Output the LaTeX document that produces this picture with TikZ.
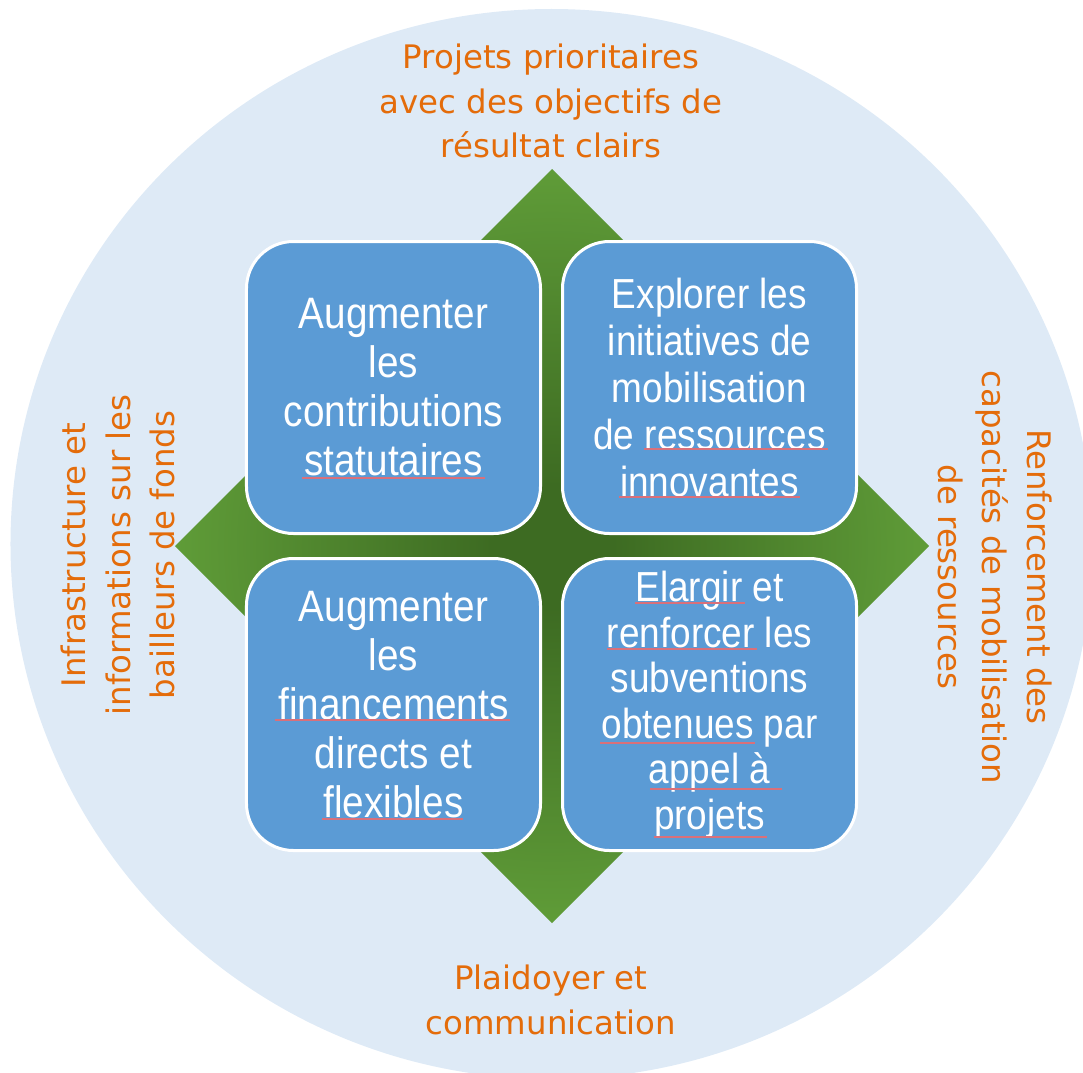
\documentclass[tikz,border=0pt]{standalone}
\usepackage{fontspec}
\newfontfamily\tilefont[FakeStretch=0.88]{Liberation Sans}
\newfontfamily\axisfont{DejaVu Sans}
\definecolor{ringblue}{HTML}{DEEAF6}
\definecolor{tileblue}{HTML}{5B9BD5}
\definecolor{leafdark}{HTML}{3D6B22}
\definecolor{leaflight}{HTML}{64A33B}
\definecolor{labelorange}{HTML}{E46C0A}
\definecolor{spellred}{HTML}{D9707A}
\pgfdeclareradialshading{leafglow}{\pgfpoint{0bp}{0bp}}{color(0bp)=(leafdark); color(4bp)=(leafdark); color(28bp)=(leaflight); color(50bp)=(leaflight)}
\tikzset{
    tile/.style={
        draw=white,
        line width=3pt,
        fill=tileblue,
        rounded corners=47pt,
        minimum width=294pt,
        minimum height=292pt,
        inner sep=0pt,
        text=white,
        align=center
    },
    bigtile/.style={tile, font=\tilefont\fontsize{44}{49}\selectfont},
    smalltile/.style={tile, font=\tilefont\fontsize{42}{47}\selectfont},
    axislabel/.style={text=labelorange, align=center, font=\axisfont\fontsize{32.4}{44.5}\selectfont},
    squig/.style={draw=spellred, line width=1.4pt}
}

\begin{document}
\begin{tikzpicture}[x=1pt,y=1pt]
\useasboundingbox (-552,-526) rectangle (531,546);

% background disc and the green cross
\fill[ringblue] (-0.5,2) ellipse [x radius=541, y radius=535];
\shade[shading=leafglow] (0,377) -- (377,0) -- (0,-377) -- (-377,0) -- cycle;

% four tiles
\node[bigtile] (contrib) at (-158.5,158.5) {Augmenter\\les\\contributions\\statutaires};
\node[smalltile] (explore) at (157.5,158.5) {Explorer les\\initiatives de\\mobilisation\\de ressources\\innovantes};
\node[bigtile] (direct) at (-158.5,-158.5) {Augmenter\\les\\financements\\directs et\\flexibles};
\node[smalltile, font=\tilefont\fontsize{42}{45.5}\selectfont] (grants) at (157.5,-158.5) {Elargir et\\renforcer les\\subventions\\obtenues par\\appel à \\projets};

% red marks under some words
\begin{scope}[shift={(contrib.center)}]
\draw[squig] (-91.5,-90.5) -- (91.5,-90.5);
\end{scope}
\begin{scope}[shift={(explore.center)}]
\draw[squig] (-65.5,-61.5) -- (118.5,-61.5);
\draw[squig] (-90.5,-109.5) -- (90.5,-109.5);
\end{scope}
\begin{scope}[shift={(direct.center)}]
\draw[squig] (-118.5,-15.5) -- (116.5,-15.5);
\draw[squig] (-71.5,-114.5) -- (69.5,-114.5);
\end{scope}
\begin{scope}[shift={(grants.center)}]
\draw[squig] (-74.5,101.5) -- (35.5,101.5);
\draw[squig] (-102.5,55.5) -- (47.5,55.5);
\draw[squig] (-109.5,-38.5) -- (45.5,-38.5);
\draw[squig] (-59.5,-84.5) -- (72.5,-84.5);
\draw[squig] (-55.5,-132.5) -- (57.5,-132.5);
\end{scope}

% labels round the cross
\node[axislabel] (north) at (-1,445) {Projets prioritaires\\avec des objectifs de\\résultat clairs};
\node[axislabel] (south) at (-1,-454) {Plaidoyer et\\communication};
\node[axislabel, rotate=90] (west) at (-434,-9) {Infrastructure et\\informations sur les\\bailleurs de fonds};
\node[axislabel, rotate=-90] (east) at (443,-31) {Renforcement des\\capacités de mobilisation\\de ressources};
\end{tikzpicture}
\end{document}
